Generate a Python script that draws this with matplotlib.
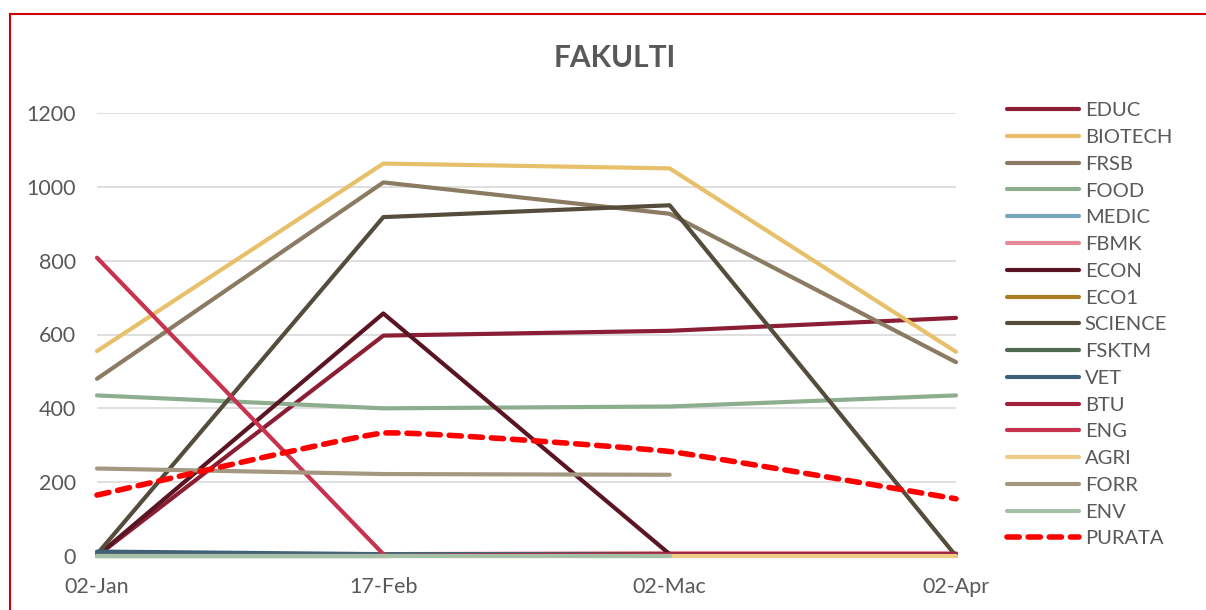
import numpy as np
import matplotlib
matplotlib.use("Agg")
import matplotlib.pyplot as plt
from matplotlib.lines import Line2D

plt.rcParams['font.family'] = ['Lato', 'DejaVu Sans']

dates = ["02-Jan", "17-Feb", "02-Mac", "02-Apr"]
nan = np.nan
EDUC = [0, 597, 610, 645]
BIOTECH = [555, 1063, 1050, 553]
FRSB = [480, 1012, 927, 525]
FOOD = [435, 400, 405, 435]
MEDIC = [3, 3, 3, 3]
FBMK = [5, 5, 8, 8]
ECON = [0, 657, 5, 5]
ECO1 = [5, 5, 5, 3]
SCIENCE = [5, 918, 950, 0]
FSKTM = [2, 2, 2, 2]
VET = [12, 5, 5, 5]
BTU = [0, 0, 5, 5]
ENG = [808, 5, nan, nan]
AGRI = [0, 0, 0, 0]
FORR = [237, 222, 220, nan]
ENV = [0, 0, 0, nan]
PURATA = [165, 333, 283, 155]

series = [
    ("EDUC", EDUC, "#8B1E35"),
    ("BIOTECH", BIOTECH, "#E8C06A"),
    ("FRSB", FRSB, "#8A7B62"),
    ("FOOD", FOOD, "#8DAE8E"),
    ("MEDIC", MEDIC, "#7AA5C2"),
    ("FBMK", FBMK, "#E48A98"),
    ("ECON", ECON, "#591522"),
    ("ECO1", ECO1, "#AA7E24"),
    ("SCIENCE", SCIENCE, "#554C3B"),
    ("FSKTM", FSKTM, "#4E6A4F"),
    ("VET", VET, "#3F6079"),
    ("BTU", BTU, "#A3213C"),
    ("ENG", ENG, "#C7334F"),
    ("AGRI", AGRI, "#EECC88"),
    ("FORR", FORR, "#A59880"),
    ("ENV", ENV, "#A6BFA7"),
]

fig = plt.figure(figsize=(12.06, 6.10), dpi=100)
ax = fig.add_axes([97/1206, 1-556/610, (956-97)/1206, (556-113)/610])

x = np.arange(len(dates))
handles = []
for name, vals, col in series:
    h, = ax.plot(x, vals, color=col, lw=3.0, solid_capstyle='round', solid_joinstyle='round',
                 label=name, clip_on=False)
    handles.append(h)

# smoothed rendering of the average line (low-tension Bezier through the 4 points)
def smooth(xs, ys, tension=0.15, n=40):
    P = np.column_stack([xs, ys]).astype(float)
    Q = np.vstack([P[0], P, P[-1]])
    out = []
    for i in range(1, len(Q) - 2):
        p0, p1, p2, p3 = Q[i-1], Q[i], Q[i+1], Q[i+2]
        c1 = p1 + tension * (p2 - p0) / 3.0
        c2 = p2 - tension * (p3 - p1) / 3.0
        t = np.linspace(0, 1, n)[:, None]
        pts = (1-t)**3*p1 + 3*(1-t)**2*t*c1 + 3*(1-t)*t**2*c2 + t**3*p2
        out.append(pts if i == 1 else pts[1:])
    return np.vstack(out)

sm = smooth(x, PURATA)
hp, = ax.plot(sm[:, 0], sm[:, 1], color="#FF0000", lw=4, ls=(0, (2.2, 1.6)),
              dash_capstyle='round', label="PURATA", clip_on=False)
handles.append(hp)

ax.set_xlim(0, 3)
ax.set_ylim(0, 1200)
ax.set_yticks(range(0, 1201, 200))
ax.set_xticks(x)
ax.set_xticklabels(dates)
ax.grid(axis='y', color='#D9D9D9', lw=1.2)
ax.set_axisbelow(True)
for s in ax.spines.values():
    s.set_visible(False)
ax.tick_params(length=0, labelsize=15.5, labelcolor='#595959')
ax.tick_params(axis='y', pad=15)
ax.tick_params(axis='x', pad=15)

fig.text(615/1206, 1-58/610, "FAKULTI", ha='center', va='center', fontsize=21.5,
         fontweight='bold', color='#595959')

fig.legend(handles=handles, loc='upper left', bbox_to_anchor=(989/1206, 1-84/610), frameon=False,
           fontsize=14.5, handlelength=3.55, handletextpad=0.3, labelspacing=0.48,
           labelcolor='#595959')

# border
fig.add_artist(Line2D([10/1206, 1], [1-14/610, 1-14/610], color='#CC0000', lw=1.5))
fig.add_artist(Line2D([10/1206, 10/1206], [0, 1-14/610], color='#CC0000', lw=1.5))

fig.savefig("out.png", dpi=100)
